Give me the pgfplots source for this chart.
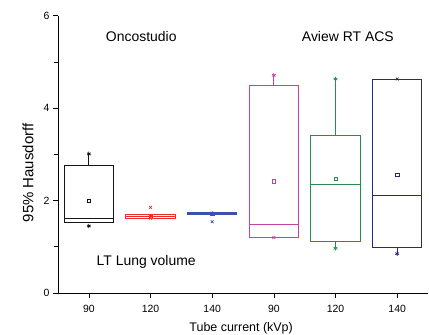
\documentclass[border=0pt]{standalone}
\usepackage{pgfplots}
\pgfplotsset{compat=1.18}
\usepgfplotslibrary{statistics}
\usepackage{fontspec}
\setmainfont{Liberation Sans}
\definecolor{cblack}{RGB}{20,20,20}
\definecolor{cred}{RGB}{232,45,45}
\definecolor{cblue}{RGB}{60,80,175}
\definecolor{cmag}{RGB}{195,65,165}
\definecolor{cgreen}{RGB}{40,140,75}
\definecolor{cnavy}{RGB}{40,40,125}
\begin{document}
\begin{tikzpicture}
\begin{axis}[
  at={(0,0)}, anchor=south west,
  scale only axis, width=370bp, height=277.3bp,
  xmin=-0.5, xmax=5.5, ymin=0, ymax=6,
  axis lines*=left, axis line style={-, black, line width=0.6pt},
  xtick={0,1,2,3,4,5}, xticklabels={90,120,140,90,120,140},
  ytick={0,2,4,6}, minor ytick={1,3,5},
  tick align=outside, tick style={black, line width=0.6pt},
  major tick length=5bp, minor tick length=4bp,
  tick label style={font=\fontsize{10.5}{12}\selectfont},
  xticklabel style={yshift=-4bp},
  /pgf/number format/assume math mode=true,
  xlabel={Tube current (kVp)}, ylabel={95\% Hausdorff},
  xlabel style={font=\fontsize{12.5}{14}\selectfont, at={(axis description cs:0.495,0)}, anchor=north, yshift=-26bp},
  ylabel style={font=\fontsize{15}{17}\selectfont, at={(axis description cs:-0.081,0.433)}, anchor=center},
  boxplot/draw direction=y,
  boxplot/box extend=0.8,
  boxplot/whisker extend=0,
  clip=false,
]
% box 1
\addplot[cblack, line width=0.7pt, boxplot prepared={draw position=0,
  lower whisker=1.537, lower quartile=1.537, median=1.617, upper quartile=2.755, upper whisker=3.01}] coordinates {};
\addplot[cred, line width=0.9pt, boxplot prepared={draw position=1,
  lower whisker=1.617, lower quartile=1.617, median=1.66, upper quartile=1.70, upper whisker=1.70}] coordinates {};
\addplot[cblue, line width=0.9pt, boxplot prepared={draw position=2,
  lower whisker=1.69, lower quartile=1.69, median=1.72, upper quartile=1.747, upper whisker=1.747}] coordinates {};
\addplot[cmag, line width=0.7pt, boxplot prepared={draw position=3,
  lower whisker=1.205, lower quartile=1.205, median=1.48, upper quartile=4.495, upper whisker=4.71}] coordinates {};
\addplot[cgreen, line width=0.7pt, boxplot prepared={draw position=4,
  lower whisker=0.97, lower quartile=1.11, median=2.36, upper quartile=3.42, upper whisker=4.63}] coordinates {};
\addplot[cnavy, line width=0.7pt, boxplot prepared={draw position=5,
  lower whisker=0.85, lower quartile=0.996, median=2.11, upper quartile=4.63, upper whisker=4.63}] coordinates {};
% means
\addplot[only marks, mark=square, mark size=1.6bp, cblack, mark options={line width=0.5pt}] coordinates {(0,2.0)};
\addplot[only marks, mark=square, mark size=1.6bp, cred, mark options={line width=0.5pt}] coordinates {(1,1.65)};
\addplot[only marks, mark=square, mark size=1.6bp, cblue, mark options={line width=0.5pt}] coordinates {(2,1.72)};
\addplot[only marks, mark=square, mark size=1.6bp, cmag, mark options={line width=0.5pt}] coordinates {(3,2.42)};
\addplot[only marks, mark=square, mark size=1.6bp, cgreen, mark options={line width=0.5pt}] coordinates {(4,2.47)};
\addplot[only marks, mark=square, mark size=1.6bp, cnavy, mark options={line width=0.5pt}] coordinates {(5,2.56)};
% extremes (stars)
\addplot[only marks, mark=asterisk, mark size=2.2bp, cblack, mark options={line width=0.7pt}] coordinates {(0,3.01) (0,1.45)};
\addplot[only marks, mark=x, mark size=2bp, cred, mark options={line width=0.7pt}] coordinates {(1,1.855) (1,1.62)};
\addplot[only marks, mark=asterisk, mark size=2bp, cblue, mark options={line width=0.7pt}] coordinates {(2,1.73)};
\addplot[only marks, mark=x, mark size=2bp, cblue, mark options={line width=0.7pt}] coordinates {(2,1.54)};
\addplot[only marks, mark=asterisk, mark size=2.2bp, cmag, mark options={line width=0.7pt}] coordinates {(3,4.71)};
\addplot[only marks, mark=x, mark size=2bp, cmag, mark options={line width=0.7pt}] coordinates {(3,1.2)};
\addplot[only marks, mark=asterisk, mark size=2.2bp, cgreen, mark options={line width=0.7pt}] coordinates {(4,4.63) (4,0.97)};
\addplot[only marks, mark=x, mark size=2bp, cnavy, mark options={line width=0.7pt}] coordinates {(5,4.63)};
\addplot[only marks, mark=asterisk, mark size=2.2bp, cnavy, mark options={line width=0.7pt}] coordinates {(5,0.85)};
% annotations
\node[font=\fontsize{14}{16}\selectfont] at (axis cs:0.85,5.54) {Oncostudio};
\node[font=\fontsize{14}{16}\selectfont] at (axis cs:4.2,5.54) {Aview RT ACS};
\node[font=\fontsize{14}{16}\selectfont] at (axis cs:0.93,0.67) {LT Lung volume};
\end{axis}
\pgfresetboundingbox
\path (-58bp,-42bp) rectangle (371bp,293bp);
\end{tikzpicture}
\end{document}
